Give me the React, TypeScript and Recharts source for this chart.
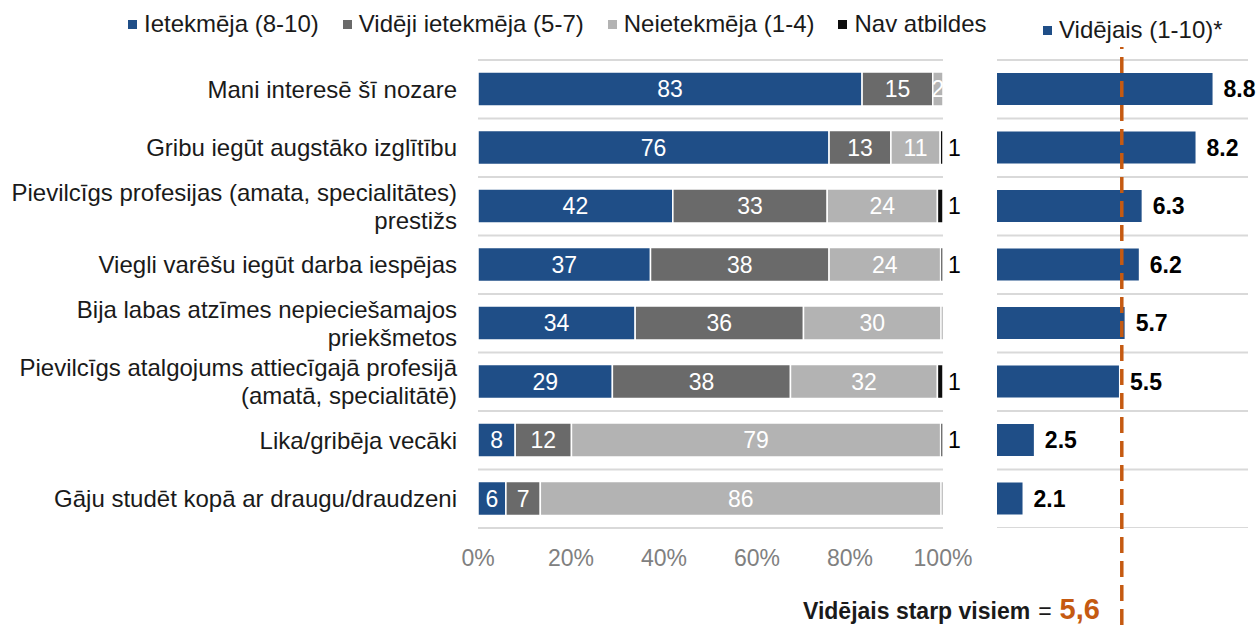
import {
	BarChart,
	Bar,
	XAxis,
	YAxis,
	CartesianGrid,
	LabelList,
	Legend,
	ReferenceLine,
} from "recharts";

/* ── Dati ─────────────────────────────────────────────── */
const categories = [
	"Mani interesē šī nozare",
	"Gribu iegūt augstāko izglītību",
	"Pievilcīgs profesijas (amata, specialitātes)\nprestižs",
	"Viegli varēšu iegūt darba iespējas",
	"Bija labas atzīmes nepieciešamajos\npriekšmetos",
	"Pievilcīgs atalgojums attiecīgajā profesijā\n(amatā, specialitātē)",
	"Lika/gribēja vecāki",
	"Gāju studēt kopā ar draugu/draudzeni",
];

// procenti (nolasīti no attēla, ar decimāldaļām, lai summa = 100)
const influenced = [82.6, 75.5, 41.9, 37.1, 33.8, 28.9, 8.0, 6.0];
const medium = [15.2, 13.3, 33.2, 38.4, 36.2, 38.3, 12.1, 7.4];
const notInfluenced = [2.2, 10.6, 23.7, 24.0, 29.6, 31.6, 79.4, 86.2];
const noAnswer = [0, 0.6, 1.2, 0.5, 0.4, 1.2, 0.5, 0.4];

const averages = [8.8, 8.2, 6.3, 6.2, 5.7, 5.5, 2.5, 2.1];
const overallAvg = 5.6;

const pctTicks = [0, 20, 40, 60, 80, 100];

const seriesNames = [
	"Ietekmēja (8-10)",
	"Vidēji ietekmēja (5-7)",
	"Neietekmēja (1-4)",
	"Nav atbildes",
];
const avgName = "Vidējais (1-10)*";

/* ── Stils ───────────────────────────────────────────── */
const FONT = "'Liberation Sans', Arial, sans-serif";
const BLUE = "#1f4e87";
const DARK = "#6a6a6a";
const LIGHT = "#b3b3b3";
const BLACK = "#0d0d0d";
const ORANGE = "#c55a11";
const GRID = "#d9d9d9";
const SERIES_COLORS = [BLUE, DARK, LIGHT, BLACK];

const rows = categories.map((name, i) => ({
	name,
	a: influenced[i],
	b: medium[i],
	c: notInfluenced[i],
	d: noAnswer[i],
	avg: averages[i],
}));

const rounded = (v: any) => {
	const r = Math.round(Number(v));
	return r === 0 ? "" : String(r);
};

// līnijas starp kategorijām (nevis kategoriju centros)
const rowBoundaries = ({ offset }: any) =>
	rows
		.map((_, i) => offset.top + (i * offset.height) / rows.length)
		.concat(offset.top + offset.height);

function CategoryTick({ x, y, payload }: any) {
	const lines = String(payload.value).split("\n");
	const lh = 28;
	const start = y - ((lines.length - 1) * lh) / 2;
	return (
		<text
			x={x}
			y={start}
			textAnchor="end"
			fill="#1a1a1a"
			fontSize={24}
			fontFamily={FONT}
		>
			{lines.map((l, i) => (
				<tspan key={i} x={x} y={start + i * lh} dy="0.35em">
					{l}
				</tspan>
			))}
		</text>
	);
}

function LegendBox({ items }: { items: { name: string; color: string }[] }) {
	return (
		<div
			style={{
				display: "flex",
				alignItems: "center",
				fontFamily: FONT,
				fontSize: 24,
				color: "#1a1a1a",
				whiteSpace: "nowrap",
			}}
		>
			{items.map((it) => (
				<span
					key={it.name}
					style={{ display: "flex", alignItems: "center", marginRight: 24 }}
				>
					<span
						style={{
							width: 9,
							height: 9,
							background: it.color,
							marginRight: 7,
							display: "inline-block",
						}}
					/>
					{it.name}
				</span>
			))}
		</div>
	);
}

export default function App() {
	const avgDomain: [number, number] = [1.2, 10.05];
	return (
		<div
			style={{
				position: "absolute",
				left: 0,
				top: 0,
				width: 1257,
				height: 625,
				background: "#fff",
				fontFamily: FONT,
				overflow: "hidden",
			}}
		>
			{/* ── Kreisā daļa: sadalījums % ── */}
			<div style={{ position: "absolute", left: 0, top: 0 }}>
				<BarChart
					width={990}
					height={580}
					data={rows}
					layout="vertical"
					margin={{ top: 60, right: 47, left: 0, bottom: 0 }}
				>
					<CartesianGrid
						horizontal
						vertical={false}
						stroke={GRID}
						strokeWidth={2}
						horizontalCoordinatesGenerator={rowBoundaries}
					/>
					<XAxis
						type="number"
						domain={[0, 100]}
						ticks={pctTicks}
						tickFormatter={(v) => `${v}%`}
						axisLine={false}
						tickLine={false}
						tickMargin={16}
						height={52}
						tick={{ fill: "#808080", fontSize: 23, fontFamily: FONT }}
					/>
					<YAxis
						type="category"
						dataKey="name"
						width={478}
						axisLine={false}
						tickLine={false}
						tickMargin={15}
						interval={0}
						tick={<CategoryTick />}
					/>
					<Legend
						layout="horizontal"
						verticalAlign="middle"
						align="center"
						wrapperStyle={{ top: 10, left: 128, width: 880 }}
						content={() => (
							<LegendBox
								items={seriesNames.map((name, i) => ({
									name,
									color: SERIES_COLORS[i],
								}))}
							/>
						)}
					/>
					{(["a", "b", "c", "d"] as const).map((key, i) => (
						<Bar
							key={key}
							dataKey={key}
							name={seriesNames[i]}
							stackId="s"
							fill={SERIES_COLORS[i]}
							stroke="#fff"
							strokeWidth={1.5}
							barSize={34}
							isAnimationActive={false}
						>
							<LabelList
								dataKey={key}
								position={key === "d" ? "right" : "center"}
								offset={key === "d" ? 5 : 0}
								formatter={rounded}
								fill={key === "d" ? "#000" : "#fff"}
								fontSize={23}
								fontFamily={FONT}
							/>
						</Bar>
					))}
				</BarChart>
			</div>

			{/* ── Labā daļa: vidējais ── */}
			<div style={{ position: "absolute", left: 990, top: 0 }}>
				<BarChart
					width={267}
					height={528}
					data={rows}
					layout="vertical"
					margin={{ top: 60, right: 9, left: 7, bottom: 0 }}
				>
					<CartesianGrid
						horizontal
						vertical={false}
						stroke={GRID}
						strokeWidth={2}
						horizontalCoordinatesGenerator={rowBoundaries}
					/>
					<XAxis type="number" domain={avgDomain} hide allowDataOverflow />
					<YAxis type="category" dataKey="name" hide />
					<Legend
						layout="horizontal"
						verticalAlign="middle"
						align="center"
						wrapperStyle={{ top: 16, left: 53, width: 214 }}
						content={() => <LegendBox items={[{ name: avgName, color: BLUE }]} />}
					/>
					<Bar
						dataKey="avg"
						name={avgName}
						fill={BLUE}
						barSize={32}
						isAnimationActive={false}
					>
						<LabelList
							dataKey="avg"
							position="right"
							offset={11}
							formatter={(v: any) => Number(v).toFixed(1)}
							fill="#000"
							fontSize={23}
							fontWeight="bold"
							fontFamily={FONT}
						/>
					</Bar>
				</BarChart>
			</div>

			{/* ── Vidējā līnija pāri visam augstumam ── */}
			<div style={{ position: "absolute", left: 990, top: 0, pointerEvents: "none" }}>
				<BarChart
					width={267}
					height={625}
					data={rows}
					layout="vertical"
					margin={{ top: 47, right: 9, left: 7, bottom: 0 }}
				>
					<XAxis type="number" domain={avgDomain} hide allowDataOverflow />
					<YAxis type="category" dataKey="name" hide />
					<ReferenceLine
						x={overallAvg}
						stroke={ORANGE}
						strokeWidth={3.5}
						strokeDasharray="16 8"
					/>
				</BarChart>
			</div>

			<div
				style={{
					position: "absolute",
					left: 803,
					top: 594,
					display: "flex",
					alignItems: "baseline",
					fontFamily: FONT,
					lineHeight: "30px",
					whiteSpace: "nowrap",
				}}
			>
				<span style={{ fontWeight: "bold", fontSize: 23, color: "#1a1a1a" }}>
					Vidējais starp visiem
				</span>
				<span style={{ fontSize: 23, color: "#1a1a1a", margin: "0 8px" }}>=</span>
				<span style={{ fontWeight: "bold", fontSize: 29, color: ORANGE }}>
					{String(overallAvg).replace(".", ",")}
				</span>
			</div>
		</div>
	);
}
